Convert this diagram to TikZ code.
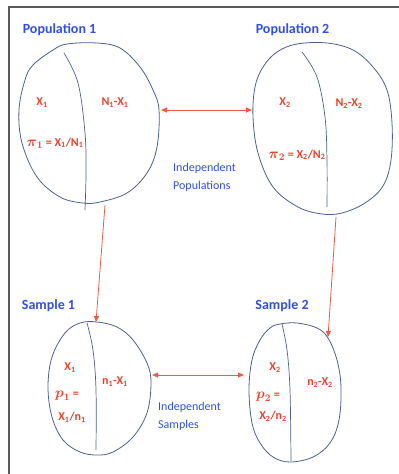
\documentclass[tikz,border=0pt]{standalone}
\usepackage{fontspec}
\setmainfont{Carlito}
\usetikzlibrary{arrows.meta}
\definecolor{titleblue}{HTML}{2F50E6}
\definecolor{countred}{HTML}{EC412C}
\definecolor{arrowred}{HTML}{EE5A45}
\definecolor{outline}{HTML}{4A5F94}
\definecolor{framegray}{HTML}{5A5A5A}
\newcommand{\propsym}[2]{{\fontsize{14}{14}\selectfont$\boldsymbol{#1}_{#2}$}}
\tikzset{
  heading/.style={font=\fontsize{14}{16}\selectfont\bfseries, text=titleblue, inner sep=0pt},
  count/.style={font=\fontsize{12}{14}\selectfont\bfseries\boldmath, text=countred, inner sep=0pt},
  note/.style={font=\fontsize{12}{18}\selectfont, text=titleblue, align=left, anchor=west, inner sep=0pt},
  blob/.style={draw=outline, line width=0.8pt},
  divider/.style={draw=outline, line width=0.7pt},
  link/.style={-{Triangle[length=6pt,width=5pt]}, draw=arrowred, line width=0.8pt},
  twoway/.style={{Triangle[length=6pt,width=5pt]}-{Triangle[length=6pt,width=5pt]}, draw=arrowred, line width=0.8pt}
}
\usepackage{amsmath}
\begin{document}
\begin{tikzpicture}[x=1pt, y=-1pt]
\useasboundingbox (0,0) rectangle (399,474);
\draw[framegray, line width=1.5pt] (9,474) -- (9,7) -- (399,7);

% population 1
\node[heading] (pop1title) at (59.5,30) {Population 1};
\draw[blob] plot[smooth cycle, tension=0.6] coordinates {(25,80) (33,65) (53,50) (67,44) (97,43) (120,48) (140,67) (153,90) (159,110) (157,147) (147,173) (127,193) (100,202) (83,203) (60,197) (37,177) (22,143) (19,110)};
\draw[divider] plot[smooth, tension=0.6] coordinates {(64,53) (78,83) (85,133) (86,173) (85,210)};
\node[count] (pop1x) at (42,103) {X\textsubscript{1}};
\node[count] (pop1rest) at (115,103) {N\textsubscript{1}-X\textsubscript{1}};
\node[count] (pop1prop) at (55,143) {\propsym{\pi}{1} = X\textsubscript{1}/N\textsubscript{1}};

% population 2
\node[heading] (pop2title) at (292.5,30) {Population 2};
\draw[blob] plot[smooth cycle, tension=0.6] coordinates {(263,67) (277,52) (297,44) (327,43) (353,50) (373,67) (387,90) (392,123) (391,160) (383,186) (365,203) (342,213) (322,214) (298,207) (273,187) (258,153) (253,117) (255,87)};
\draw[divider] plot[smooth, tension=0.6] coordinates {(302,52) (317,77) (325,117) (327,160) (327,207)};
\node[count] (pop2x) at (285,103) {X\textsubscript{2}};
\node[count] (pop2rest) at (349,104) {N\textsubscript{2}-X\textsubscript{2}};
\node[count] (pop2prop) at (297,155) {\propsym{\pi}{2} = X\textsubscript{2}/N\textsubscript{2}};

% sample 1
\node[heading] (samp1title) at (48.5,306) {Sample 1};
\draw[blob] plot[smooth cycle, tension=0.6] coordinates {(80,323) (97,322) (117,327) (133,340) (147,363) (151,383) (147,413) (133,437) (113,452) (97,455) (80,452) (63,440) (52,417) (48,387) (52,357) (65,333)};
\draw[divider] plot[smooth, tension=0.6] coordinates {(87,323) (93,350) (96,390) (96,450)};
\node[count] (samp1x) at (70,368) {X\textsubscript{1}};
\node[count] (samp1p) at (67,396) {\propsym{p}{1} =};
\node[count] (samp1frac) at (72,417) {X\textsubscript{1}/n\textsubscript{1}};
\node[count] (samp1rest) at (115,382) {n\textsubscript{1}-X\textsubscript{1}};

% sample 2
\node[heading] (samp2title) at (282,306) {Sample 2};
\draw[blob] plot[smooth cycle, tension=0.6] coordinates {(280,324) (297,323) (317,328) (328,338) (337,360) (341,387) (339,420) (330,443) (313,457) (290,462) (273,457) (260,443) (252,423) (249,390) (252,360) (260,340) (270,328)};
\draw[divider] plot[smooth, tension=0.6] coordinates {(282,324) (287,350) (290,390) (291,461)};
\node[count] (samp2x) at (275,368) {X\textsubscript{2}};
\node[count] (samp2p) at (268,397) {\propsym{p}{2} =};
\node[count] (samp2frac) at (273,416) {X\textsubscript{2}/n\textsubscript{2}};
\node[count] (samp2rest) at (320,383) {n\textsubscript{2}-X\textsubscript{2}};

% notes
\node[note] (popnote) at (173,177) {Independent\\Populations};
\node[note] (sampnote) at (158,416) {Independent\\Samples};

% connectors
\coordinate (pop1E) at (161,110);
\coordinate (pop2W) at (252,110);
\coordinate (pop1S) at (105,205);
\coordinate (samp1N) at (96,322);
\coordinate (pop2S) at (336,217);
\coordinate (samp2N) at (328,337);
\coordinate (samp1E) at (152,375);
\coordinate (samp2W) at (244,375);
\draw[twoway] (pop1E) -- (pop2W);
\draw[link] (pop1S) -- (samp1N);
\draw[link] (pop2S) -- (samp2N);
\draw[twoway] (samp1E) -- (samp2W);
\end{tikzpicture}
\end{document}
